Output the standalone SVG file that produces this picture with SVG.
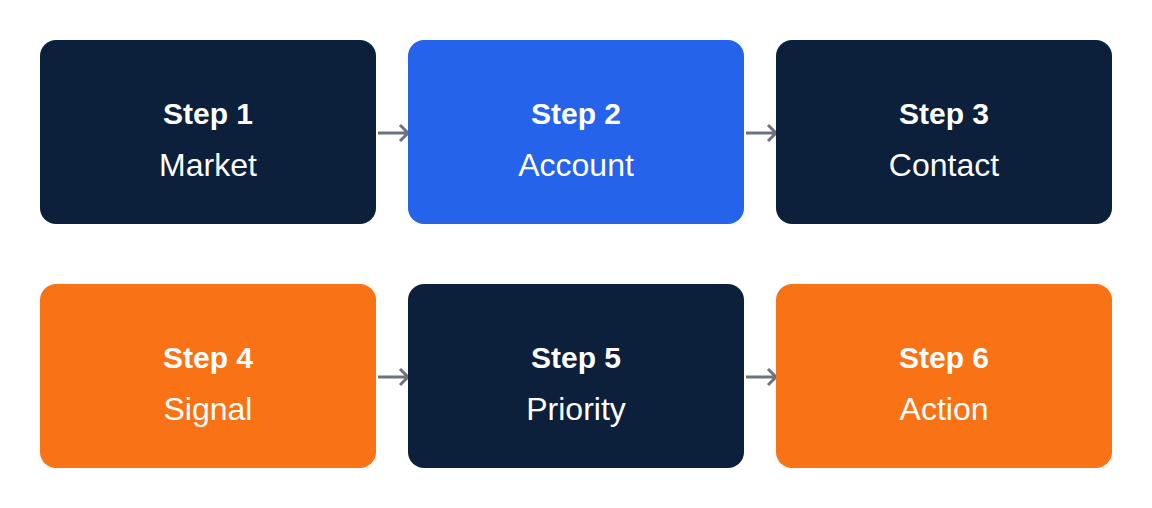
<svg xmlns="http://www.w3.org/2000/svg" width="1152" height="508" viewBox="0 0 1152 508">
<style>
.t{font-family:"Liberation Sans",Arial,sans-serif;fill:#fff;text-anchor:middle}
.s{font-size:30px;font-weight:bold}
.l{font-size:32px}
.c{stroke:#6b7280;stroke-width:3;fill:none}
</style>
<rect width="1152" height="508" fill="#fff"/>
<g id="connectors">
<path class="c" d="M378 133H408M400 125L408 133L400 141"/>
<path class="c" d="M746 133H776M768 125L776 133L768 141"/>
<path class="c" d="M378 377H408M400 369L408 377L400 385"/>
<path class="c" d="M746 377H776M768 369L776 377L768 385"/>
</g>
<g id="n1"><rect x="40" y="40" width="336" height="184" rx="16" fill="#0c1f3b"/><text class="t s" x="208" y="124">Step 1</text><text class="t l" x="208" y="176">Market</text></g>
<g id="n2"><rect x="408" y="40" width="336" height="184" rx="16" fill="#2563eb"/><text class="t s" x="576" y="124">Step 2</text><text class="t l" x="576" y="176">Account</text></g>
<g id="n3"><rect x="776" y="40" width="336" height="184" rx="16" fill="#0c1f3b"/><text class="t s" x="944" y="124">Step 3</text><text class="t l" x="944" y="176">Contact</text></g>
<g id="n4"><rect x="40" y="284" width="336" height="184" rx="16" fill="#f97316"/><text class="t s" x="208" y="368">Step 4</text><text class="t l" x="208" y="420">Signal</text></g>
<g id="n5"><rect x="408" y="284" width="336" height="184" rx="16" fill="#0c1f3b"/><text class="t s" x="576" y="368">Step 5</text><text class="t l" x="576" y="420">Priority</text></g>
<g id="n6"><rect x="776" y="284" width="336" height="184" rx="16" fill="#f97316"/><text class="t s" x="944" y="368">Step 6</text><text class="t l" x="944" y="420">Action</text></g>
</svg>
